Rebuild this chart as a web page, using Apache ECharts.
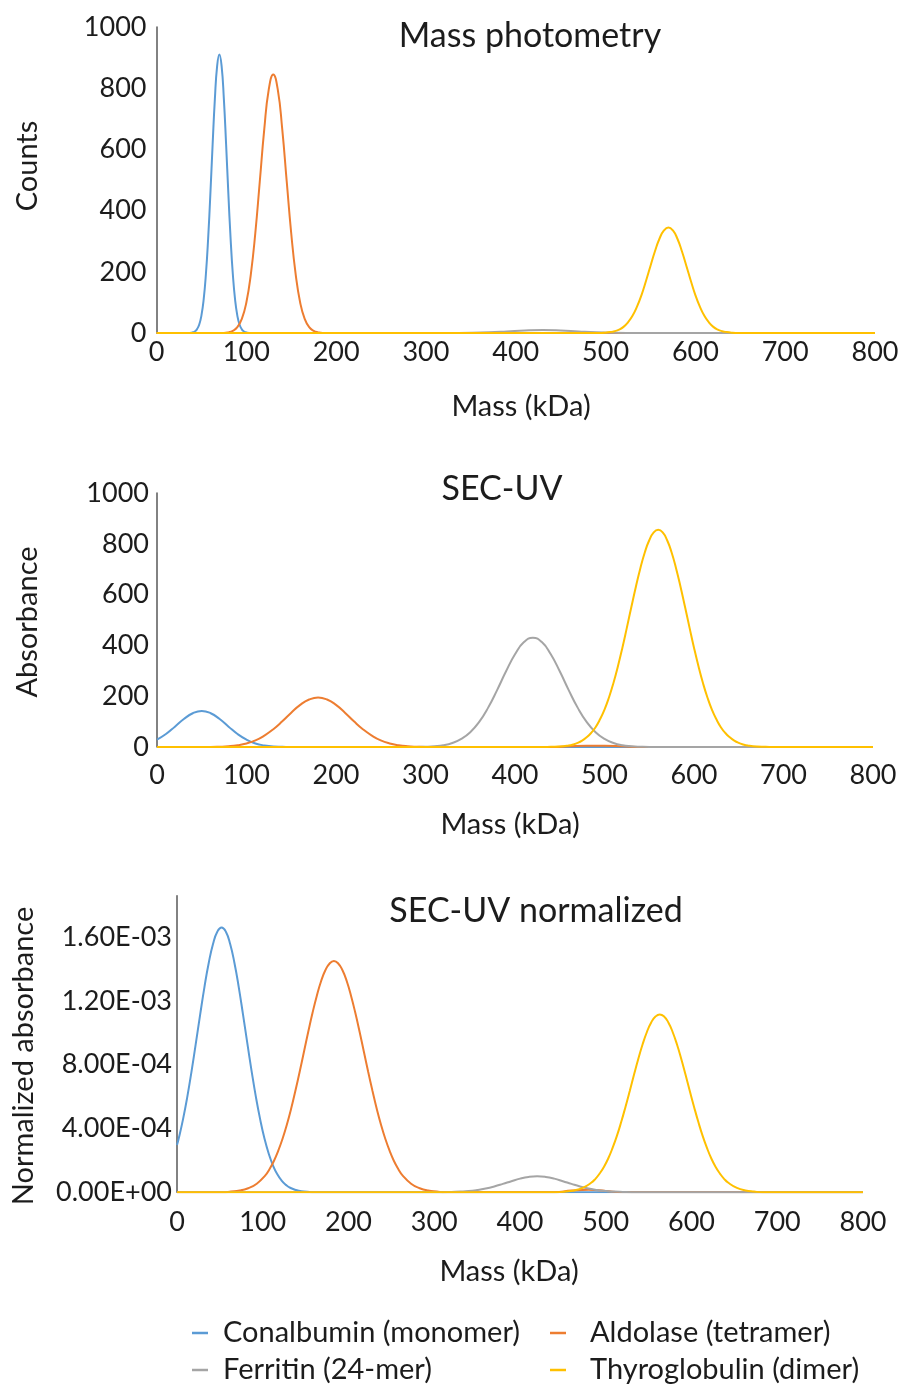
<!DOCTYPE html>
<html>
<head>
<meta charset="utf-8">
<title>Mass photometry vs SEC-UV</title>
<script src="https://cdn.jsdelivr.net/npm/echarts@6/dist/echarts.min.js"></script>
<style>
  html, body { margin: 0; padding: 0; background: #ffffff; }
  #chart { width: 902px; height: 1389px; }
</style>
</head>
<body>
<div id="chart"></div>
<script>
// ---- Data: [mass (kDa), signal] pairs for each protein standard ----

// Mass photometry (counts)
const mpConalbumin = [[0,0],[35,0],[40,2],[42.5,5],[45,12],[47.5,27],[50,57],[52.5,109],[55,192],[57.5,309],[60,456],[62.5,617],[65,765],[67.5,872],[70,910],[72.5,872],[75,765],[77.5,617],[80,456],[82.5,309],[85,192],[87.5,109],[90,57],[92.5,27],[95,12],[97.5,5],[100,2],[105,0],[800,0]];
const mpAldolase = [[0,0],[75,0],[80,2],[85,7],[90,19],[95,46],[100,99],[105,191],[110,326],[115,495],[120,666],[125,796],[130,845],[135,796],[140,666],[145,495],[150,326],[155,191],[160,99],[165,46],[170,19],[175,7],[180,2],[185,0],[800,0]];
const mpFerritin = [[0,0],[310,0],[330,0.2],[350,0.7],[370,2.3],[390,5.2],[410,8.5],[430,10],[450,8.5],[470,5.2],[490,2.3],[510,0.7],[530,0.2],[550,0],[800,0]];
const mpThyroglobulin = [[0,0],[495,0],[500,1],[505,3],[510,6],[515,11],[520,20],[525,35],[530,56],[535,86],[540,124],[545,170],[550,219],[555,267],[560,308],[565,335],[570,345],[575,335],[580,308],[585,267],[590,219],[595,170],[600,124],[605,86],[610,56],[615,35],[620,20],[625,11],[630,6],[635,3],[640,1],[645,0],[800,0]];

// SEC-UV (absorbance)
const secConalbumin = [[0,29],[10,51],[20,80],[30,110],[40,133],[50,142],[60,133],[70,110],[80,80],[90,51],[100,29],[110,14],[120,6],[130,2],[140,1],[150,0],[800,0]];
const secAldolase = [[0,0],[60,0],[70,1],[80,3],[90,7],[100,14],[110,26],[120,45],[130,70],[140,101],[150,135],[160,166],[170,187],[180,195],[190,187],[200,166],[210,135],[220,101],[230,70],[240,45],[250,26],[260,14],[270,7],[280,3],[290,1],[300,0],[440,0],[460,3],[480,5],[500,5],[520,3],[540,0],[800,0]];
const secFerritin = [[0,0],[290,0],[300,1],[310,3],[320,7],[330,16],[340,32],[350,58],[360,99],[370,155],[380,224],[390,298],[400,365],[410,413],[420,430],[430,413],[440,365],[450,298],[460,224],[470,155],[480,99],[490,58],[500,32],[510,16],[520,7],[530,3],[540,1],[550,0],[800,0]];
const secThyroglobulin = [[0,0],[430,0],[440,1],[450,2],[460,6],[465,10],[470,16],[475,25],[480,38],[485,55],[490,78],[495,109],[500,147],[505,195],[510,252],[515,318],[520,391],[525,470],[530,551],[535,630],[540,703],[545,766],[550,814],[555,845],[560,855],[565,845],[570,814],[575,766],[580,703],[585,630],[590,551],[595,470],[600,391],[605,318],[610,252],[615,195],[620,147],[625,109],[630,78],[635,55],[640,38],[645,25],[650,16],[655,10],[660,6],[670,2],[680,1],[690,0],[800,0]];

// SEC-UV normalized absorbance
const normConalbumin = [[0,2.96e-4],[2,3.37e-4],[7,4.57e-4],[12,5.98e-4],[17,7.60e-4],[22,9.35e-4],[27,1.114e-3],[32,1.287e-3],[37,1.438e-3],[42,1.557e-3],[47,1.634e-3],[52,1.66e-3],[57,1.634e-3],[62,1.557e-3],[67,1.438e-3],[72,1.287e-3],[77,1.114e-3],[82,9.35e-4],[87,7.60e-4],[92,5.98e-4],[97,4.57e-4],[102,3.37e-4],[107,2.41e-4],[112,1.67e-4],[117,1.12e-4],[122,7.3e-5],[127,4.6e-5],[132,2.8e-5],[142,9e-6],[152,3e-6],[160,0],[800,0]];
const normAldolase = [[0,0],[53,0],[63,4e-6],[73,1.0e-5],[83,2.5e-5],[93,5.3e-5],[103,1.06e-4],[108,1.46e-4],[113,1.96e-4],[118,2.59e-4],[123,3.34e-4],[128,4.22e-4],[133,5.22e-4],[138,6.35e-4],[143,7.54e-4],[148,8.80e-4],[153,1.005e-3],[158,1.124e-3],[163,1.231e-3],[168,1.323e-3],[173,1.392e-3],[178,1.435e-3],[183,1.45e-3],[188,1.435e-3],[193,1.392e-3],[198,1.323e-3],[203,1.231e-3],[208,1.124e-3],[213,1.005e-3],[218,8.80e-4],[223,7.54e-4],[228,6.35e-4],[233,5.22e-4],[238,4.22e-4],[243,3.34e-4],[248,2.59e-4],[253,1.96e-4],[258,1.46e-4],[263,1.06e-4],[273,5.3e-5],[283,2.5e-5],[293,1.0e-5],[303,4e-6],[313,0],[440,0],[460,1.0e-5],[480,1.5e-5],[500,8e-6],[520,0],[800,0]];
const normFerritin = [[0,0],[310,0],[320,2e-6],[330,4e-6],[340,7e-6],[350,1.35e-5],[360,2.3e-5],[370,3.6e-5],[380,5.2e-5],[390,6.9e-5],[400,8.5e-5],[410,9.6e-5],[420,1.0e-4],[430,9.6e-5],[440,8.5e-5],[450,6.9e-5],[460,5.2e-5],[470,3.6e-5],[480,2.3e-5],[490,1.35e-5],[500,7e-6],[510,4e-6],[520,2e-6],[530,0],[800,0]];
const normThyroglobulin = [[0,0],[443,0],[453,4e-6],[463,1.1e-5],[473,2.7e-5],[483,5.9e-5],[488,8.4e-5],[493,1.18e-4],[498,1.60e-4],[503,2.13e-4],[508,2.78e-4],[513,3.53e-4],[518,4.40e-4],[523,5.35e-4],[528,6.35e-4],[533,7.38e-4],[538,8.37e-4],[543,9.28e-4],[548,1.005e-3],[553,1.065e-3],[558,1.102e-3],[563,1.115e-3],[568,1.102e-3],[573,1.065e-3],[578,1.005e-3],[583,9.28e-4],[588,8.37e-4],[593,7.38e-4],[598,6.35e-4],[603,5.35e-4],[608,4.40e-4],[613,3.53e-4],[618,2.78e-4],[623,2.13e-4],[628,1.60e-4],[633,1.18e-4],[638,8.4e-5],[643,5.9e-5],[653,2.7e-5],[663,1.1e-5],[673,4e-6],[683,0],[800,0]];

// Labels
const proteinNames = ['Conalbumin (monomer)', 'Aldolase (tetramer)', 'Ferritin (24-mer)', 'Thyroglobulin (dimer)'];
const proteinColors = ['#5B9BD5', '#ED7D31', '#A5A5A5', '#FFC000'];
const panelTitles = ['Mass photometry', 'SEC-UV', 'SEC-UV normalized'];
const yAxisTitles = ['Counts', 'Absorbance', 'Normalized absorbance'];
const xAxisTitle = 'Mass (kDa)';

// ---- Styling ----
const FONT = 'Lato, "Open Sans", sans-serif';
const INK = '#1c1c1c';
const TICK_SIZE = 27;
const NAME_SIZE = 29;
const TITLE_SIZE = 34;

function sciLabel(v) {
  if (v === 0) return '0.00E+00';
  const e = Math.floor(Math.log10(Math.abs(v)) + 1e-9);
  const m = v / Math.pow(10, e);
  return m.toFixed(2) + 'E' + (e < 0 ? '-' : '+') + String(Math.abs(e)).padStart(2, '0');
}

const plainLabel = (v) => String(v);

function xAxisFor(gridIndex, margin) {
  return {
    type: 'value', gridIndex, min: 0, max: 800, interval: 100,
    axisLine: { show: false }, axisTick: { show: false }, splitLine: { show: false },
    axisLabel: { fontSize: TICK_SIZE, fontFamily: FONT, color: INK, margin, formatter: plainLabel }
  };
}

function yAxisFor(gridIndex, extra) {
  const axis = {
    type: 'value', gridIndex, min: 0,
    axisLine: { show: true, onZero: false, lineStyle: { color: '#595959', width: 1.5 } },
    axisTick: { show: false }, splitLine: { show: false },
    axisLabel: { fontSize: TICK_SIZE, fontFamily: FONT, color: INK, margin: 10, formatter: plainLabel }
  };
  Object.assign(axis, extra.axis || {});
  Object.assign(axis.axisLabel, extra.label || {});
  return axis;
}

const panelData = [
  [mpConalbumin, mpAldolase, mpFerritin, mpThyroglobulin],
  [secConalbumin, secAldolase, secFerritin, secThyroglobulin],
  [normConalbumin, normAldolase, normFerritin, normThyroglobulin]
];

const series = [];
panelData.forEach((sets, p) => {
  sets.forEach((data, i) => {
    series.push({
      type: 'line', name: proteinNames[i], xAxisIndex: p, yAxisIndex: p,
      data, smooth: true, symbol: 'none', showSymbol: false,
      lineStyle: { width: 2, color: proteinColors[i] },
      itemStyle: { color: proteinColors[i] },
      z: 2 + i, animation: false
    });
  });
});

// Text labels: panel titles and axis titles
const textEl = (text, x, y, size, rotate) => ({
  type: 'text', x, y, rotation: rotate ? Math.PI / 2 : 0,
  style: { text, fontSize: size, fontFamily: FONT, fill: INK, textAlign: 'center', textVerticalAlign: 'middle' }
});

const graphics = [
  textEl(panelTitles[0], 530, 36, TITLE_SIZE),
  textEl(panelTitles[1], 502, 489, TITLE_SIZE),
  textEl(panelTitles[2], 536, 911, TITLE_SIZE),
  textEl(yAxisTitles[0], 28, 166, NAME_SIZE, true),
  textEl(yAxisTitles[1], 28, 622, NAME_SIZE, true),
  textEl(yAxisTitles[2], 24, 1056, NAME_SIZE, true),
  textEl(xAxisTitle, 521, 407, NAME_SIZE),
  textEl(xAxisTitle, 510, 825, NAME_SIZE),
  textEl(xAxisTitle, 509, 1272, NAME_SIZE)
];

const legendAt = (name, left, top, gap) => ({
  data: [name], left, top, orient: 'horizontal',
  icon: 'rect', itemWidth: 16, itemHeight: 2.5,
  textStyle: { fontSize: NAME_SIZE, fontFamily: FONT, color: INK, padding: [0, 0, 0, gap], lineHeight: 32 }
});

const option = {
  backgroundColor: '#ffffff',
  animation: false,
  grid: [
    { left: 156.5, top: 27, width: 718.5, height: 306 },
    { left: 157, top: 493, width: 716, height: 254 },
    { left: 177, top: 895.7, width: 686, height: 296.5 }
  ],
  xAxis: [xAxisFor(0, 5.5), xAxisFor(1, 14.5), xAxisFor(2, 16.5)],
  yAxis: [
    yAxisFor(0, { axis: { max: 1000, interval: 200 } }),
    yAxisFor(1, { axis: { max: 1000, interval: 200 }, label: { margin: 8 } }),
    yAxisFor(2, { axis: { max: 0.00186, interval: 0.0004 }, label: { margin: 5, formatter: sciLabel, showMaxLabel: false } })
  ],
  legend: [
    legendAt(proteinNames[0], 187, 1312, 10),
    legendAt(proteinNames[1], 545, 1312, 19),
    legendAt(proteinNames[2], 187, 1349, 10),
    legendAt(proteinNames[3], 545, 1349, 19)
  ],
  graphic: graphics,
  series
};

const chart = echarts.init(document.getElementById('chart'), null, { renderer: 'canvas' });
chart.setOption(option);
</script>
</body>
</html>
